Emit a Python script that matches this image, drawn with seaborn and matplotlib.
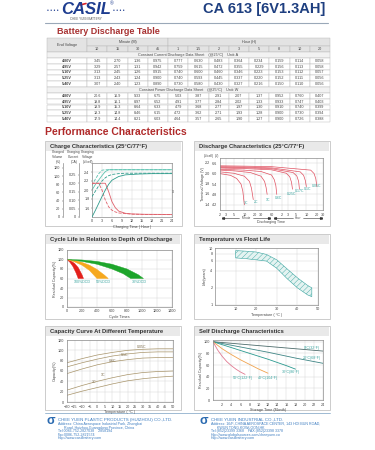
import matplotlib
matplotlib.use('Agg')
import matplotlib.pyplot as plt
from matplotlib.patches import Rectangle, Polygon
import seaborn as sns

W, H = 375, 450

# Battery discharge table
minute_cols = ['10', '15', '30', '45']
hour_cols = ['1', '1.5', '2', '3', '5', '8', '10', '20']
end_voltages = ['4.80V', '4.95V', '5.10V', '5.25V', '5.40V']
current_a = [
    ['3.45', '2.70', '1.36', '0.975', '0.777', '0.630', '0.483', '0.364', '0.234', '0.159', '0.114', '0.058'],
    ['3.29', '2.57', '1.31', '0.942', '0.759', '0.615', '0.472', '0.355', '0.229', '0.156', '0.113', '0.058'],
    ['3.13', '2.45', '1.26', '0.915', '0.740', '0.600', '0.460', '0.346', '0.223', '0.153', '0.112', '0.057'],
    ['3.13', '2.43', '1.24', '0.900', '0.740', '0.593', '0.445', '0.337', '0.220', '0.152', '0.111', '0.056'],
    ['3.07', '2.40', '1.23', '0.890', '0.730', '0.580', '0.430', '0.327', '0.216', '0.150', '0.110', '0.056'],
]
power_w = [
    ['20.6', '16.9', '9.33', '6.75', '5.03', '3.87', '2.91', '2.07', '1.37', '0.952', '0.760', '0.407'],
    ['19.8', '16.1', '8.97', '6.52', '4.91', '3.77', '2.84', '2.02', '1.33', '0.933', '0.747', '0.403'],
    ['18.9', '15.3', '8.64', '6.33', '4.79', '3.68', '2.77', '1.97', '1.30', '0.910', '0.740', '0.399'],
    ['18.3', '14.8', '8.46', '6.15', '4.72', '3.62', '2.71', '1.93', '1.28', '0.900', '0.730', '0.394'],
    ['17.9', '14.4', '8.21', '6.03', '4.64', '3.57', '2.65', '1.90', '1.27', '0.900', '0.726', '0.388'],
]

# Charge characteristics
charge_hours = [0, 1, 2, 3, 4, 5, 6, 8, 10, 14, 18, 24]
volume_100 = [0, 16, 33, 50, 66, 80, 90, 99, 103, 105, 106, 106]
volume_50 = [50, 63, 76, 88, 96, 101, 104, 106, 107, 107, 107, 107]
volt_100 = [2.00, 2.12, 2.22, 2.32, 2.41, 2.45, 2.45, 2.45, 2.45, 2.45, 2.45, 2.45]
volt_50 = [2.10, 2.24, 2.36, 2.44, 2.45, 2.45, 2.45, 2.45, 2.45, 2.45, 2.45, 2.45]
current_hours = [0, 1, 2, 3, 4, 5, 6, 7, 8, 10, 12, 16, 24]
curr_100 = [0.20, 0.20, 0.20, 0.20, 0.20, 0.15, 0.09, 0.055, 0.035, 0.022, 0.018, 0.016, 0.015]
curr_50 = [0.20, 0.20, 0.20, 0.16, 0.10, 0.06, 0.04, 0.03, 0.024, 0.02, 0.017, 0.015, 0.014]

# Discharge characteristics (time in minutes)
dis_rates = ['3C', '2C', '1C', '0.6C', '0.25C', '0.17C', '0.1C', '0.05C']
dis_times = [
    [2, 4, 6, 8, 9, 10],
    [2, 5, 10, 14, 16, 18],
    [2, 5, 15, 30, 38, 42, 45],
    [2, 10, 30, 60, 72, 80, 85],
    [2, 10, 60, 160, 200, 225, 240],
    [2, 10, 60, 250, 320, 360, 380],
    [2, 10, 60, 400, 500, 560, 600],
    [2, 10, 60, 800, 1000, 1120, 1200],
]
dis_volts = [
    [6.00, 5.90, 5.72, 5.40, 5.00, 4.20],
    [6.10, 6.02, 5.85, 5.55, 5.15, 4.50],
    [6.20, 6.16, 6.06, 5.85, 5.55, 5.20, 4.80],
    [6.25, 6.20, 6.12, 5.92, 5.65, 5.30, 4.80],
    [6.32, 6.29, 6.22, 6.02, 5.82, 5.50, 5.10],
    [6.36, 6.34, 6.28, 6.06, 5.86, 5.55, 5.10],
    [6.40, 6.38, 6.33, 6.10, 5.90, 5.60, 5.25],
    [6.45, 6.43, 6.40, 6.20, 6.00, 5.70, 5.25],
]
dis_label_x = [11, 22, 48, 95, 230, 380, 640, 1150]
dis_label_y = [4.30, 4.35, 4.45, 4.60, 4.80, 4.97, 5.14, 5.30]

# Cycle life vs depth of discharge
dod_labels = ['100%DOD', '50%DOD', '30%DOD']
dod_colors = ['#e3201b', '#f6a81e', '#1da52b']
dod_upper_x = [[0, 50, 100, 150, 200, 220], [0, 100, 200, 300, 400, 500, 550],
               [0, 200, 400, 600, 800, 950, 1020]]
dod_upper_y = [[100, 97, 92, 83, 68, 60], [100, 98, 94, 88, 79, 67, 60],
               [100, 99, 96, 90, 80, 68, 60]]
dod_lower_x = [[0, 40, 80, 120, 150], [0, 100, 200, 300, 400],
               [0, 200, 400, 600, 750, 850]]
dod_lower_y = [[100, 94, 85, 72, 60], [100, 95, 88, 77, 60],
               [100, 96, 90, 80, 70, 60]]
dod_label_x = [200, 490, 960]

# Temperature vs float life
float_temp = [10, 15, 20, 25, 30, 35, 40, 45, 47]
float_upper = [9.0, 8.8, 8.5, 7.7, 6.2, 4.3, 3.0, 2.2, 2.0]
float_lower = [6.7, 6.5, 6.2, 5.9, 4.4, 2.9, 2.0, 1.5, 1.4]

# Capacity vs temperature
cap_temp = [-20, -10, 0, 10, 20, 30, 40, 50]
cap_rates = ['0.05C', '0.1C', '0.6C', '1C', '3C']
cap_values = [
    [76, 84, 91, 96, 100, 102, 103, 103],
    [68, 76, 83, 89, 93, 96, 97, 97],
    [55, 64, 72, 78, 82, 85, 86, 86],
    [23, 32, 40, 47, 53, 57, 59, 60],
    [13, 21, 28, 35, 41, 45, 48, 50],
]
cap_label_x = [29, 18, 10, 4, -2]
cap_label_y = [106, 90, 79, 52, 38]

# Self discharge
self_labels = ['0°C(32°F)', '20°C(68°F)', '30°C(86°F)', '40°C(104°F)', '50°C(122°F)']
self_colors = ['#4d6b6b', '#3f8585', '#2b9a90', '#f0a34e', '#e17a92']
self_months = [[0, 6, 12, 18, 24], [0, 6, 12, 18, 24], [0, 4, 8, 12, 16, 18],
               [0, 2, 4, 6, 8, 10, 12], [0, 1, 2, 3, 4, 5, 6, 7]]
self_values = [[100, 96, 92, 88, 84], [100, 91, 82, 72, 63], [100, 90, 80, 70, 59, 53],
               [100, 88, 78, 69, 61, 53, 46], [100, 86, 75, 66, 59, 53, 48, 44]]
self_label_x = [21.5, 21.5, 17.0, 12.0, 6.5]
self_label_y = [90, 72, 48, 38, 38]

TEAL = '#3aa5a0'
TXT = '#444444'
TS = 2.7

sns.set_theme(style='white')
plt.rcParams['font.family'] = ['Liberation Sans', 'DejaVu Sans']
plt.rcParams['hatch.linewidth'] = 0.3

fig = plt.figure(figsize=(3.75, 4.5), dpi=100)
canvas = fig.add_axes([0, 0, 1, 1])
canvas.set_xlim(0, W)
canvas.set_ylim(H, 0)
canvas.axis('off')


def px_box(x0, y0, x1, y1):
    return [x0 / W, 1 - y1 / H, (x1 - x0) / W, (y1 - y0) / H]


def style(ax, grid=True):
    for s in ax.spines.values():
        s.set_color('#8c8c8c')
        s.set_linewidth(0.5)
    ax.tick_params(labelsize=TS, length=1, width=0.3, pad=0.8, colors=TXT)
    if grid:
        ax.grid(True, color='#d2d2d2', lw=0.3)
    ax.set_axisbelow(True)


def labels(ax, xl, yl):
    ax.set_xlabel(xl, fontsize=TS, labelpad=0.8, color=TXT)
    ax.set_ylabel(yl, fontsize=TS, labelpad=0.8, color=TXT)


# header
canvas.text(47, 10.5, '• • • •', fontsize=3.5, color='#1d3c8f', va='center')
canvas.text(86, 10, 'CASIL', ha='center', va='center', fontsize=12, weight='bold',
            style='italic', color='#1d3c8f')
canvas.plot([80, 86], [5, 3.5], color='#d9232a', lw=1.2)
canvas.text(110, 3.5, '®', fontsize=3.5, color='#1d3c8f', va='center')
canvas.text(113, 10.5, '• • • •', fontsize=3.5, color='#1d3c8f', va='center')
canvas.text(86, 19.5, 'CHEE YUEN BATTERY', ha='center', va='center', fontsize=2.2, color='#555')
canvas.text(325, 9, 'CA 613 [6V1.3AH]', ha='right', va='center', fontsize=10.5, weight='bold',
            color='#1e3f80', family=['Liberation Sans Narrow', 'Liberation Sans', 'DejaVu Sans'])
canvas.plot([45, 328], [23, 23], color='#9aa8b8', lw=0.8)
canvas.text(57, 31.5, 'Battery Discharge Table', fontsize=6.5, weight='bold', color='#a83232',
            va='center')

# table
tx0, tx1, c0 = 47, 330, 87
cw = (tx1 - c0) / 12
rh = (122 - 52) / 12
HDR = '#e3e3e3'


def cell(x, y, w, h, txt, fc='white', bold=False):
    canvas.add_patch(Rectangle((x, y), w, h, facecolor=fc, edgecolor='#b5b5b5', lw=0.3))
    if txt:
        canvas.text(x + w / 2, y + h / 2, txt, ha='center', va='center', fontsize=TS,
                    color=TXT, weight='bold' if bold else 'normal')


cell(tx0, 38, c0 - tx0, 14, 'End Voltage', HDR)
cell(c0, 38, 4 * cw, 8, 'Minute (M)', HDR)
cell(c0 + 4 * cw, 38, 8 * cw, 8, 'Hour (H)', HDR)
for i, c in enumerate(minute_cols + hour_cols):
    cell(c0 + i * cw, 46, cw, 6, c, HDR)
y = 52
for title, data in [('Constant Current Discharge Data Sheet    (@25°C)    Unit: A', current_a),
                    ('Constant Power Discharge Data Sheet    (@25°C)    Unit: W', power_w)]:
    cell(tx0, y, tx1 - tx0, rh, title, '#f2f2f2')
    y += rh
    for ev, row in zip(end_voltages, data):
        cell(tx0, y, c0 - tx0, rh, ev, bold=True)
        for i, v in enumerate(row):
            cell(c0 + i * cw, y, cw, rh, v)
        y += rh

canvas.text(45, 132, 'Performance Characteristics', fontsize=7.5, weight='bold',
            color='#b02a2a', va='center')

# panels
panels = [(45, 141, 182, 226, 'Charge Characteristics (25°C/77°F)'),
          (194, 141, 330, 226, 'Discharge Characteristics (25°C/77°F)'),
          (45, 234, 181, 319, 'Cycle Life in Relation to Depth of Discharge'),
          (194, 234, 330, 319, 'Temperature vs Float Life'),
          (45, 326, 181, 410, 'Capacity Curve At Different Temperature'),
          (194, 326, 330, 410, 'Self Discharge Characteristics')]
for x0, y0, x1, y1, t in panels:
    canvas.add_patch(Rectangle((x0, y0), x1 - x0, y1 - y0, facecolor='white',
                               edgecolor='#c4c4c4', lw=0.6))
    canvas.add_patch(Rectangle((x0 + 0.8, y0 + 0.8), x1 - x0 - 1.6, 9.5, facecolor='#e9e9e9',
                               edgecolor='none'))
    canvas.text(x0 + 5, y0 + 5.8, t, fontsize=4.2, weight='bold', color='#333', va='center')

# 1. charge characteristics
ax = fig.add_axes(px_box(92, 163, 172, 217))
style(ax)
ax.set_xlim(0, 24)
ax.set_xticks(range(0, 25, 3))
ax.set_ylim(1.4, 2.6)
ax.set_yticks([1.6, 1.8, 2.0, 2.2, 2.4])
ax.set_xlabel('Charging Time ( Hour )', fontsize=TS, labelpad=0.8, color=TXT)
sns.lineplot(x=charge_hours, y=volt_100, ax=ax, color='#5cc3b0', lw=0.6)
sns.lineplot(x=charge_hours, y=volt_50, ax=ax, color='#5cc3b0', lw=0.6, linestyle='--')

ax_c = ax.twinx()
ax_c.set_ylim(0, 0.32)
ax_c.set_yticks([0, 0.05, 0.10, 0.15, 0.20, 0.25])
ax_c.set_yticklabels(['0', '0.05', '0.10', '0.15', '0.20', '0.25'])
ax_v = ax.twinx()
ax_v.set_ylim(0, 132)
ax_v.set_yticks(range(0, 121, 20))
for tw, off in [(ax_c, 9.4), (ax_v, 20.9)]:
    tw.yaxis.set_ticks_position('left')
    tw.yaxis.set_label_position('left')
    for sp in ['right', 'top', 'bottom']:
        tw.spines[sp].set_visible(False)
    tw.spines['left'].set_position(('outward', off))
    style(tw, grid=False)
sns.lineplot(x=current_hours, y=curr_100, ax=ax_c, color='#e0606a', lw=0.6)
sns.lineplot(x=current_hours, y=curr_50, ax=ax_c, color='#e0606a', lw=0.6, linestyle='--')
sns.lineplot(x=charge_hours, y=volume_100, ax=ax_v, color='#2f9c8c', lw=0.6)
sns.lineplot(x=charge_hours, y=volume_50, ax=ax_v, color='#2f9c8c', lw=0.6, linestyle='--')
for tw in (ax_c, ax_v):
    tw.set_ylabel('')
canvas.text(58, 157, 'Charged\nVolume\n(%)', fontsize=2.4, ha='center', va='center', color=TXT)
canvas.text(74, 157, 'Charging\nCurrent\n(CA)', fontsize=2.4, ha='center', va='center', color=TXT)
canvas.text(88, 157, 'Charging\nVoltage\n(V/cell)', fontsize=2.4, ha='center', va='center', color=TXT)
canvas.text(133, 165.5, 'Constant voltage 2.45V/cell charging at 25°C', fontsize=2.4,
            ha='center', va='center', color=TXT)
canvas.text(149, 172.5, '25°C', fontsize=2.6, color='#2f9c8c', va='center')
canvas.text(140, 180.5, 'Capacity', fontsize=2.6, color='#e0606a', va='center')
canvas.text(135, 210.5, 'Current', fontsize=2.6, color='#e0606a', va='center')
canvas.plot([141, 148], [188, 188], color='#e0606a', lw=0.5, ls='--')
canvas.plot([141, 148], [192, 192], color='#e0606a', lw=0.5)
canvas.text(149, 188, 'After 50% DOD', fontsize=2.4, color=TXT, va='center')
canvas.text(149, 192, 'After 100% DOD', fontsize=2.4, color=TXT, va='center')

# 2. discharge characteristics
ax = fig.add_axes(px_box(220, 158, 323, 210))
style(ax)
ax.set_xscale('log')
ax.set_xlim(2, 1800)
ticks = [2, 3, 5, 10, 20, 30, 60, 120, 180, 300, 600, 1200, 1800]
ax.set_xticks(ticks)
ax.set_xticklabels(['2', '3', '5', '10', '20', '30', '60', '2', '3', '5', '10', '20', '30'])
ax.minorticks_off()
ax.set_ylim(3.9, 6.9)
vticks = [4.2, 4.8, 5.4, 6.0, 6.6]
ax.set_yticks(vticks)
ax.set_yticklabels([f'{v:.1f}' for v in vticks])
for v in vticks:
    ax.text(-0.1, v, f'{v / 3:.1f}', transform=ax.get_yaxis_transform(), fontsize=TS,
            color=TXT, ha='right', va='center')
for t, v in zip(dis_times, dis_volts):
    sns.lineplot(x=t, y=v, ax=ax, color='#e05060', lw=0.5, sort=False)
for r, lx, ly in zip(dis_rates, dis_label_x, dis_label_y):
    ax.text(lx, ly, r, fontsize=2.5, color=TEAL, ha='center', va='center')
canvas.text(203, 184, 'Terminal Voltage (V)', fontsize=TS, rotation=90, ha='center',
            va='center', color=TXT)
canvas.text(209, 156, '(V/cell)', fontsize=2.3, ha='center', color=TXT, va='center')
canvas.text(216.5, 156, '(V)', fontsize=2.3, ha='center', color=TXT, va='center')
# Minute / Hour spans: line segments with end caps, text in the gap
ya = 218
for xa, xb, word in [(222, 270, 'Minute'), (274, 322, 'Hour')]:
    mid = (xa + xb) / 2
    gap = 7 if word == 'Minute' else 5
    canvas.plot([xa, mid - gap], [ya, ya], color='#333', lw=0.4)
    canvas.plot([mid + gap, xb], [ya, ya], color='#333', lw=0.4)
    canvas.plot([xa + 1.2], [ya], marker='<', ms=1.3, color='#333')
    canvas.plot([xb - 1.2], [ya], marker='>', ms=1.3, color='#333')
    canvas.plot([xa, xa], [ya - 1.2, ya + 1.2], color='#333', lw=0.4)
    canvas.plot([xb, xb], [ya - 1.2, ya + 1.2], color='#333', lw=0.4)
    canvas.text(mid, ya, word, fontsize=2.2, ha='center', va='center', color=TXT)
canvas.text(271, 222.5, 'Discharging Time', fontsize=2.6, ha='center', va='center', color=TXT)

# 3. cycle life
ax = fig.add_axes(px_box(67, 250, 172, 307))
style(ax)
ax.set_xlim(0, 1400)
ax.set_xticks(range(0, 1401, 200))
ax.set_ylim(0, 120)
ax.set_yticks(range(0, 121, 20))
labels(ax, 'Cycle Times', 'Residual Capacity(%)')
for ux, uy, lx, ly, c in zip(dod_upper_x, dod_upper_y, dod_lower_x, dod_lower_y, dod_colors):
    pts = list(zip(ux, uy)) + list(zip(lx, ly))[::-1]
    ax.add_patch(Polygon(pts, closed=True, facecolor=c, edgecolor=c, lw=0.3))
for lab, lx in zip(dod_labels, dod_label_x):
    ax.text(lx, 52, lab, fontsize=2.6, color=TEAL, ha='center', va='center')

# 4. temperature vs float life
ax = fig.add_axes(px_box(215, 248, 318, 305))
style(ax)
ax.set_yscale('log')
ax.set_ylim(1, 10)
ax.set_yticks([1, 2, 4, 6, 8, 10])
ax.set_yticklabels(['1', '2', '4', '6', '8', '10'])
ax.minorticks_off()
ax.set_xlim(0, 50)
ax.set_xticks([10, 20, 30, 40, 50])
labels(ax, 'Temperature ( °C )', 'Life(years)')
pts = list(zip(float_temp, float_upper)) + list(zip(float_temp, float_lower))[::-1]
ax.add_patch(Polygon(pts, closed=True, facecolor='#e4f3f1', edgecolor=TEAL, lw=0.4,
                     hatch='//////'))

# 5. capacity vs temperature
ax = fig.add_axes(px_box(67, 340, 173, 402))
style(ax)
ax.set_xlim(-20, 50)
ax.set_xticks(range(-20, 51, 5))
ax.set_ylim(0, 120)
ax.set_yticks(range(0, 121, 20))
labels(ax, 'Temperature ( °C )', 'Capacity(%)')
for vals in cap_values:
    sns.lineplot(x=cap_temp, y=vals, ax=ax, color='#a8946a', lw=0.5)
for r, lx, ly in zip(cap_rates, cap_label_x, cap_label_y):
    ax.text(lx, ly, r, fontsize=2.6, color='#7a6a4a', ha='center', va='center')

# 6. self discharge
ax = fig.add_axes(px_box(213, 340, 323, 400))
style(ax)
ax.set_xlim(0, 24)
ax.set_xticks(range(2, 25, 2))
ax.set_ylim(0, 103)
ax.set_yticks(range(0, 101, 20))
labels(ax, 'Storage Time (Month)', 'Residual Capacity(%)')
for m, v, c in zip(self_months, self_values, self_colors):
    sns.lineplot(x=m, y=v, ax=ax, color=c, lw=0.6)
for lab, lx, ly in zip(self_labels, self_label_x, self_label_y):
    ax.text(lx, ly, lab, fontsize=2.6, color=TEAL, ha='center', va='center')

# footer
BLUE = '#3c7cc0'
canvas.plot([45, 330], [413, 413], color='#8fb0cc', lw=0.6)
for x, name, lines in [
    (58, 'CHEE YUEN PLASTIC PRODUCTS (HUIZHOU) CO.,LTD.',
     ['Address: China Aerospace Industrial Park, Zhongkai',
      '      Road, Huizhou,Guangdong Province, China',
      'Tel:0086-752-2827038    2858194',
      'Fax:0086-752-2821574',
      'Http://www.casilbattery.com']),
    (211, 'CHEE YUEN INDUSTRIAL CO.,LTD.',
     ['Address: 16/F.,CHINA AEROSPACE CENTER, 143 HOI BUN ROAD,',
      '      KWUN TONG,KOWLOON,HK',
      'Tel:(852)23399 3368    FAX:(852)23398 3378',
      'Http://www.globalsources.com/cheeyuen.co',
      'Http://www.casilbattery.com'])]:
    canvas.text(x - 7, 421, 'σ', fontsize=9, weight='bold', color='#2a6ab0', ha='center',
                va='center')
    canvas.text(x, 420, name, fontsize=3.2, color=BLUE, va='center')
    for i, ln in enumerate(lines):
        canvas.text(x, 424 + i * 3.6, ln, fontsize=2.6, color=BLUE, va='center')

fig.savefig('out.png', dpi=100)
